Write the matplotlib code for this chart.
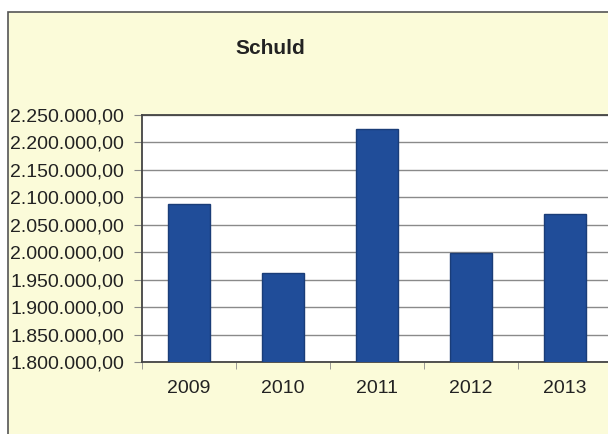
import matplotlib.pyplot as plt
from matplotlib.patches import Rectangle
from matplotlib.ticker import FuncFormatter
import numpy as np

years = ["2009", "2010", "2011", "2012", "2013"]
schuld = [2088000, 1963000, 2224000, 1999000, 2069000]
y_ticks = [1800000, 1850000, 1900000, 1950000, 2000000,
           2050000, 2100000, 2150000, 2200000, 2250000]
title = "Schuld"


def de_fmt(v, pos=None):
    s = f"{v:,.2f}"
    return s.replace(",", "X").replace(".", ",").replace("X", ".")


plt.rcParams["font.family"] = ["Liberation Sans", "DejaVu Sans"]

fig = plt.figure(figsize=(6.08, 4.34), dpi=100)
fig.patch.set_facecolor("white")

# chart area (yellow panel with border)
W, H = 608, 434
panel = Rectangle((8 / W, -0.05), 1, 1.05 - 12 / H, transform=fig.transFigure,
                  facecolor="#fbfbd9", edgecolor="#555555", linewidth=1.2, zorder=-5)
fig.patches.append(panel)

ax = fig.add_axes([142 / W, 1 - 362 / H, 470 / W, 247 / H])
ax.set_zorder(2)
ax.set_facecolor("white")

x = np.arange(len(years))
ax.bar(x, schuld, width=0.44, color="#204d99", edgecolor="#1a3d78",
       linewidth=1, zorder=3)

ax.set_ylim(y_ticks[0], y_ticks[-1])
ax.set_yticks(y_ticks)
ax.yaxis.set_major_formatter(FuncFormatter(de_fmt))
ax.set_xlim(-0.5, len(years) - 0.5)
ax.set_xticks(x)
ax.set_xticklabels(years)
ax.set_xticks(np.arange(-0.5, len(years), 1), minor=True)

ax.grid(axis="y", color="#8a8a8a", linewidth=1, zorder=1)
ax.tick_params(axis="y", length=6, color="#8a8a8a", labelsize=14,
               labelcolor="#222222", pad=7)
ax.tick_params(axis="x", which="major", length=0, labelsize=14,
               labelcolor="#222222", pad=13)
ax.tick_params(axis="x", which="minor", length=5, color="#8a8a8a")

for side in ["left", "bottom", "top"]:
    ax.spines[side].set_color("#444444")
    ax.spines[side].set_linewidth(1.3)
ax.spines["right"].set_visible(False)

fig.text(270 / W, 1 - 48 / H, title, ha="center", va="center",
         fontsize=15, fontweight="bold", color="#222222", zorder=3)

fig.savefig("out.png", dpi=100)
